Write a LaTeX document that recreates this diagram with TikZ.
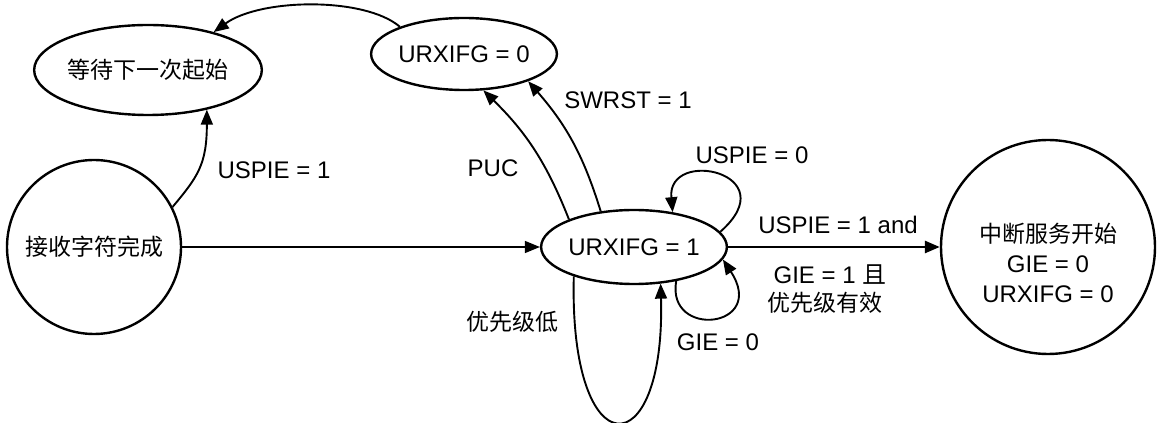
\documentclass[tikz,border=0pt]{standalone}
\usepackage{fontspec}
\setmainfont{Liberation Sans}
\newfontfamily\cjk{Noto Sans CJK SC}
\usetikzlibrary{shapes.geometric,arrows.meta}
\begin{document}
\begin{tikzpicture}[x=1pt,y=1pt,
  lat/.style={font=\fontsize{24}{30}\selectfont, inner sep=0pt},
  han/.style={font=\cjk\fontsize{23}{30}\selectfont, inner sep=0pt},
  st/.style={draw, line width=2.4pt, inner sep=0pt},
  ell/.style={st, ellipse},
  circ/.style={st, circle},
  tip/.style={-{Triangle[length=15pt,width=12pt]}},
  conn/.style={line width=1.9pt, tip},
  thinconn/.style={line width=1.3pt, tip},
  thickconn/.style={line width=2.8pt, tip}
]
\useasboundingbox (0,0) rectangle (1157,423);

% states
\node[ell, han, minimum width=216pt, minimum height=90pt] (wait) at (148,353) {等待下一次起始};
\node[ell, lat, minimum width=178pt, minimum height=72pt] (u0) at (464,369) {URXIFG = 0};
\node[circ, han, minimum size=174pt] (recv) at (94,176) {接收字符完成};
\node[ell, lat, minimum width=182pt, minimum height=74pt] (u1) at (634,176) {URXIFG = 1};
\node[circ, minimum size=214pt] (isr) at (1048,176) {};
\node[align=center, inner sep=0pt, font=\fontsize{24}{30}\selectfont] (isrtext) at ([yshift=-16pt]isr.center)
  {{\cjk\fontsize{23}{30}\selectfont 中断服务开始}\\
   GIE = 0\\
   URXIFG = 0};

% connectors
\draw[conn] (recv.27) .. controls +(25,30) and +(0,-55) .. (wait.-34);
\draw[conn] (u0.157) .. controls +(-35,30) and +(47,34) .. (wait.30);
\draw[conn] (u1.157) to[bend right=12] (u0.-62);
\draw[conn] (u1.133) to[bend right=12] (u0.-23);
\draw[thinconn] (recv.east) -- (u1.west);
\draw[conn] (u1.10) .. controls +(67,59) and +(-6,65) .. (u1.42);
\draw[conn] (u1.-39) .. controls +(-10,-58) and +(45,-69) .. (u1.-8);
\draw[conn] (u1.-154) .. controls +(-5,-193) and +(5,-185) .. (u1.-54);
\draw[thickconn] (u1.east) -- (isr.west);

% labels
\node[lat] (l1) at (274,253) {USPIE = 1};
\node[lat] (l2) at (493,255) {PUC};
\node[lat] (l3) at (628,323) {SWRST = 1};
\node[lat] (l4) at (752,268) {USPIE = 0};
\node[lat] (l5) at (838,198) {USPIE = 1 and};
\node[lat] (l6) at (830,148) {GIE = 1 {\cjk 且}};
\node[han] (l7) at (825,120) {优先级有效};
\node[lat] (l8) at (718,81) {GIE = 0};
\node[han] (l9) at (512,101) {优先级低};
\end{tikzpicture}
\end{document}
